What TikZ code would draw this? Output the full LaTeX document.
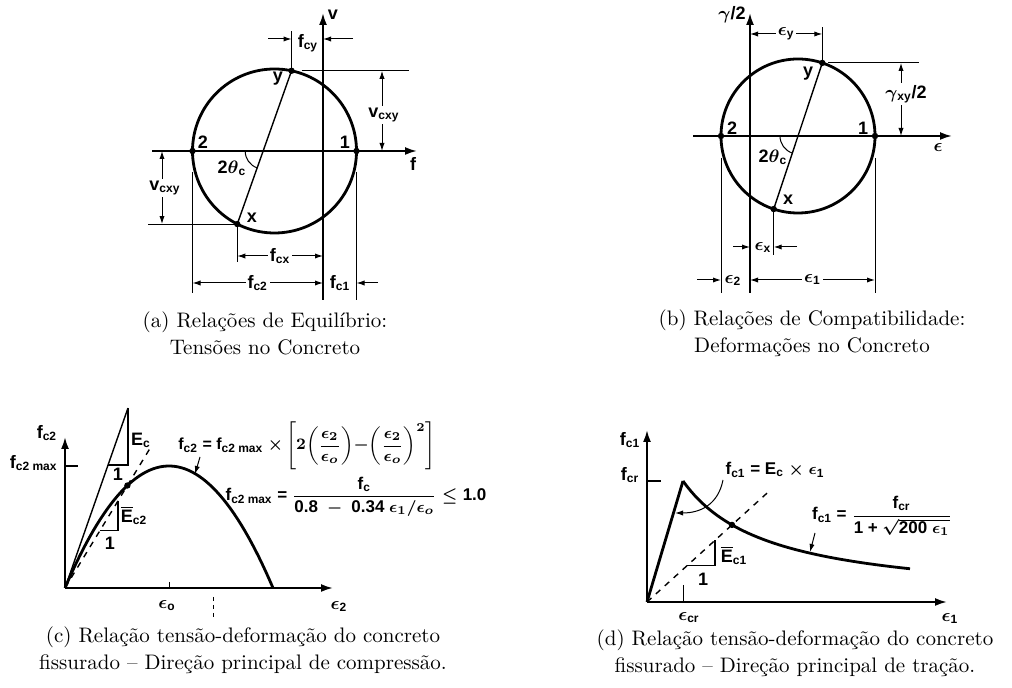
\documentclass[tikz,border=0pt]{standalone}
\usepackage{amsmath}
\usepackage{fontspec}
\usetikzlibrary{arrows.meta,calc}
\newfontfamily\lblfont{Liberation Sans}
\newcommand{\lsub}[1]{\textsubscript{#1}}

\begin{document}
\begin{tikzpicture}[
    x=0.5pt, y=-0.5pt,
    axis/.style={line width=1pt, -{Latex[length=6pt,width=4pt]}},
    dimarrow/.style={line width=0.5pt, -{Latex[length=4pt,width=2.6pt]}},
    dimline/.style={line width=0.5pt, {Latex[length=4pt,width=2.6pt]}-{Latex[length=4pt,width=2.6pt]}},
    guide/.style={line width=0.5pt},
    chord/.style={line width=0.7pt},
    graphline/.style={line width=1.4pt},
    knot/.style={circle, fill, inner sep=0pt, minimum size=3.2pt},
    lbl/.style={font=\lblfont\bfseries\fontsize{9}{10}\selectfont\boldmath, inner sep=1pt},
    formula/.style={font=\lblfont\bfseries\fontsize{8.5}{10}\selectfont\boldmath, inner sep=1pt},
    caption/.style={align=center, font=\fontsize{10.5}{13.5}\selectfont}
  ]
  \useasboundingbox (0,0) rectangle (1012,688);

  \coordinate (aO) at (323,151);
  \coordinate (aC) at (274.5,151);
  \draw[axis] (323,300) -- (323,13);
  \draw[axis] (152,151) -- (417,151);
  \draw[graphline] (aC) circle[radius=41pt];
  \path (aC) ++(180:41pt) coordinate (a2) (aC) ++(0:41pt) coordinate (a1)
        (aC) ++(78:41pt) coordinate (ay) (aC) ++(243:41pt) coordinate (ax);
  \coordinate (aM) at ($(ay)!0.523!(ax)$);
  \draw[chord] (ay) -- (ax);
  \draw[guide] (aM) ++(180:9pt) arc[start angle=180, end angle=250.5, radius=9pt];
  \node[knot] (pa2) at (a2) {};
  \node[knot] (pa1) at (a1) {};
  \node[knot] (pay) at (ay) {};
  \node[knot] (pax) at (ax) {};
  \node[lbl] (la2) at (203,142) {2};
  \node[lbl] (la1) at (345,142) {1};
  \node[lbl] (lay) at (278,79) {y};
  \node[lbl] (lax) at (252,218) {x};
  \node[lbl] (lath) at (232,168) {2$\theta$\lsub{c}};
  \node[lbl] (lav) at (333,15) {v};
  \node[lbl] (laf) at (413,164) {f};
  \draw[guide] (ay) -- (ay |- 0,31);
  \draw[dimarrow] (268,39) -- (ay |- 0,39);
  \draw[dimarrow] (353,39) -- (aO |- 0,39);
  \node[lbl] (fcy) at (308,43) {f\lsub{cy}};
  \draw[guide] ($(ay)+(10,0)$) -- (409,0 |- ay);
  \node[lbl] (vr) at (384,115) {v\lsub{cxy}};
  \draw[dimarrow] (vr.north -| 382,0) -- (382,0 |- ay);
  \draw[dimarrow] (vr.south -| 382,0) -- (382,0 |- aO);
  \draw[guide] (148,0 |- ax) -- (ax);
  \node[lbl] (vl) at (165,188) {v\lsub{cxy}};
  \draw[dimarrow] (vl.north -| 162,0) -- (162,0 |- aO);
  \draw[dimarrow] (vl.south -| 162,0) -- (162,0 |- ax);
  \draw[guide] (a2 |- 0,172) -- (a2 |- 0,293);
  \draw[guide] (a1 |- 0,172) -- (a1 |- 0,300);
  \draw[guide] (ax) -- (ax |- 0,262);
  \draw[dimline] (ax |- 0,256) -- node[lbl,fill=white] (fcx) {f\lsub{cx}} (aO |- 0,256);
  \draw[dimline] (a2 |- 0,283) -- node[lbl,fill=white] (fc2) {f\lsub{c2}} (aO |- 0,283);
  \node[lbl] (fc1) at (340,283) {f\lsub{c1}};
  \draw[dimarrow] (378,283) -- (a1 |- 0,283);

  \coordinate (bO) at (750,136);
  \coordinate (bC) at (798,136);
  \draw[axis] (750,293) -- (750,13);
  \draw[axis] (693,136) -- (952,136);
  \draw[graphline] (bC) circle[radius=38.5pt];
  \path (bC) ++(180:38.5pt) coordinate (b2) (bC) ++(0:38.5pt) coordinate (b1)
        (bC) ++(71.6:38.5pt) coordinate (by) (bC) ++(251.6:38.5pt) coordinate (bx);
  \draw[chord] (by) -- (bx);
  \draw[guide] (bC) ++(180:9pt) arc[start angle=180, end angle=251.6, radius=9pt];
  \node[knot] (pb2) at (b2) {};
  \node[knot] (pb1) at (b1) {};
  \node[knot] (pby) at (by) {};
  \node[knot] (pbx) at (bx) {};
  \node[lbl] (lb2) at (732,128) {2};
  \node[lbl] (lb1) at (863,128) {1};
  \node[lbl] (lby) at (808,74) {y};
  \node[lbl] (lbx) at (788,200) {x};
  \node[lbl] (lbth) at (773,157) {2$\theta$\lsub{c}};
  \node[lbl] (lbg) at (732,15) {$\gamma$/2};
  \node[lbl] (lbe) at (938,148) {$\epsilon$};
  \draw[guide] (by) -- (by |- 0,27);
  \draw[dimline] (bO |- 0,34) -- node[lbl,fill=white] (ey) {$\epsilon$\lsub{y}} (by |- 0,34);
  \draw[guide] ($(by)+(6,0)$) -- (919,0 |- by);
  \node[lbl] (gxy) at (906,94) {$\gamma$\lsub{xy}/2};
  \draw[dimarrow] (gxy.north -| 901,0) -- (901,0 |- by);
  \draw[dimarrow] (gxy.south -| 901,0) -- (901,0 |- bO);
  \draw[guide] (b2 |- 0,158) -- (b2 |- 0,293);
  \draw[guide] (b1 |- 0,158) -- (b1 |- 0,293);
  \draw[guide] (bx) -- (bx |- 0,255);
  \node[lbl] (ex) at (763,248) {$\epsilon$\lsub{x}};
  \draw[dimarrow] (733,247) -- (bO |- 0,247);
  \draw[dimarrow] (797,247) -- (bx |- 0,247);
  \node[lbl] (e2) at (733,281) {$\epsilon$\lsub{2}};
  \draw[dimarrow] (697,280) -- (b2 |- 0,280);
  \draw[dimline] (bO |- 0,280) -- node[lbl,fill=white] (e1) {$\epsilon$\lsub{1}} (b1 |- 0,280);

  \coordinate (cO) at (65,588);
  \coordinate (cT) at (128,408);
  \coordinate (cD) at (127.4,485.5);
  \draw[axis] (cO) -- (65,437);
  \draw[axis] (cO) -- (333,588);
  \draw[graphline] plot[domain=0:2, samples=60] ({65+104*\x},{588-122*(2*\x-\x*\x)});
  \draw[chord] (cO) -- (cT);
  \draw[chord] ($(cO)!0.683!(cT)$) -| (cT);
  \draw[chord, dashed] (cO) -- ($(cO)!1.35!(cD)$);
  \draw[chord] ($(cO)!0.56!(cD)$) -| ($(cO)!0.85!(cD)$);
  \node[knot] (pcD) at (cD) {};
  \draw[axis, -] (cO |- 0,466) -- (78,466);
  \draw[guide] (169,582) -- (169,588);
  \draw[guide, dash pattern=on 2pt off 2pt] (213,597) -- (213,618);
  \node[lbl] (lcf) at (47,433) {f\lsub{c2}};
  \node[lbl, anchor=east] (lcmax) at (60,463) {f\lsub{c2 max}};
  \node[lbl] (lceo) at (167,606) {$\epsilon$\lsub{o}};
  \node[lbl] (lce2) at (339,607) {$\epsilon$\lsub{2}};
  \node[lbl] (lcEc) at (141,440) {E\lsub{c}};
  \node[lbl] (lc1a) at (118,474) {1};
  \node[lbl] (lcEb) at (134,515) {$\overline{\mbox{E}}$\lsub{c2}};
  \node[lbl] (lc1b) at (110,543) {1};
  \node[formula, anchor=west, font=\lblfont\bfseries\fontsize{8}{10}\selectfont\boldmath] (lcfa) at (176,446)
    {f\lsub{c2} = f\lsub{c2 max} ${\times}\left[2\!\left(\dfrac{\epsilon_2}{\epsilon_o}\right)\!{-}\!\left(\dfrac{\epsilon_2}{\epsilon_o}\right)^{2}\right]$};
  \draw[dimarrow] (200,457) -- (195,474);
  \node[formula] (lcfb) at (356,497) {f\lsub{c2 max} = $\dfrac{\mbox{f\lsub{c}}}{\mbox{0.8 }-\mbox{ 0.34 }\epsilon_1/\epsilon_o}\le\mbox{1.0}$};

  \coordinate (dO) at (647,602);
  \coordinate (dP) at (683,481);
  \coordinate (dD) at (732,524.9);
  \draw[axis] (dO) -- (647,430);
  \draw[axis] (dO) -- (947,602);
  \draw[graphline] (dO) -- (dP);
  \draw[graphline] plot[domain=0:227, samples=60] ({683+\x},{602-121/(1+\x/86)});
  \draw[chord, dashed] (dO) -- ($(dO)!1.42!(dD)$);
  \draw[chord] ($(dO)!0.47!(dD)$) -| ($(dO)!0.8!(dD)$);
  \node[knot] (pdD) at (dD) {};
  \draw[axis, -] (dO |- dP) -- (661,0 |- dP);
  \draw[guide] (683,585) -- (683,602);
  \node[lbl] (ldf) at (630,440) {f\lsub{c1}};
  \node[lbl] (ldcr) at (630,475) {f\lsub{cr}};
  \node[lbl] (ldecr) at (689,618) {$\epsilon$\lsub{cr}};
  \node[lbl] (lde1) at (950,619) {$\epsilon$\lsub{1}};
  \node[lbl] (ldEb) at (734,555) {$\overline{\mbox{E}}$\lsub{c1}};
  \node[lbl] (ld1) at (703,579) {1};
  \node[formula] (ldfa) at (775,470) {f\lsub{c1} = E\lsub{c} $\times$ $\epsilon$\lsub{1}};
  \draw[dimarrow] (723,480) .. controls (718,505) and (700,513) .. (675,513);
  \node[formula] (ldfb) at (882,516) {f\lsub{c1} = $\dfrac{\mbox{f\lsub{cr}}}{\mbox{1 + }\sqrt{\mbox{200 }\epsilon_1}}$};
  \draw[dimarrow] (815,533) -- (810,552);

  \node[caption] (capa) at (265,333) {(a) Relações de Equilíbrio:\\ Tensões no Concreto};
  \node[caption] (capb) at (812,333) {(b) Relações de Compatibilidade:\\ Deformações no Concreto};
  \node[caption] (capc) at (243,650) {(c) Relação tensão-deformação do concreto\\ fissurado – Direção principal de compressão.};
  \node[caption] (capd) at (795,653) {(d) Relação tensão-deformação do concreto\\ fissurado – Direção principal de tração.};
\end{tikzpicture}
\end{document}
